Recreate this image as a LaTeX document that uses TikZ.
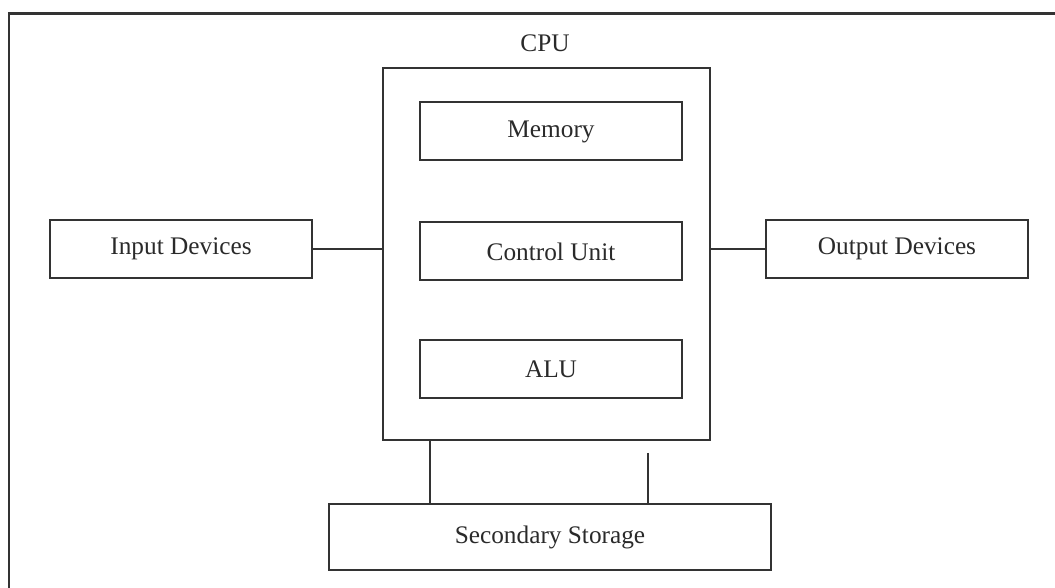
\documentclass[tikz,border=0pt]{standalone}
\usepackage{fontspec}
\setmainfont{Liberation Serif}
\definecolor{ink}{HTML}{333333}
\definecolor{txt}{HTML}{2A2A2A}

\begin{document}
\begin{tikzpicture}[
    unitbox/.style={draw=ink, line width=0.05cm, minimum width=6.55cm,
                    minimum height=1.45cm, inner sep=0pt, text=txt},
    link/.style={draw=ink, line width=0.05cm}
  ]
  \useasboundingbox (0,0) rectangle (26.375,14.7);
  {\fontsize{18}{21}\selectfont

  % Drawing page frame (runs off to the right and bottom)
  \draw [draw=ink, line width=0.05cm] (0.225,0) -- (0.225,14.35);%
  \draw [draw=ink, line width=0.075cm] (0.2,14.35) -- (26.375,14.35);%

  % Drawing box CPU with its caption
  \node [draw=ink, line width=0.05cm, minimum width=8.175cm, minimum height=9.3cm,
         inner sep=0pt] (cpu) at (13.6625,8.35) {};%
  \node [text=txt] (cpulabel) at (13.625,13.625) {CPU};%

  % Drawing units inside CPU
  \node [unitbox] (memory) at (13.775,11.4125) {Memory};%
  \node [unitbox] (control) at (13.775,8.4125) {Control Unit};%
  \node [unitbox] (alu) at (13.775,5.4625) {ALU};%

  % Drawing devices left and right
  \node [unitbox] (input) at (4.525,8.475) {Input Devices};%
  \node [unitbox] (output) at (22.425,8.475) {Output Devices};%

  % Drawing box Secondary Storage
  \node [unitbox, minimum width=11.05cm, minimum height=1.65cm] (storage)
        at (13.75,1.275) {Secondary Storage};%

  % Drawing links to CPU
  \draw [link] (input.east) -- (input.east -| cpu.west);%
  \draw [link] (output.west) -- (output.west -| cpu.east);%

  % Drawing links to storage
  \coordinate (busL) at (10.75,3.7);%
  \coordinate (busR) at (16.2,3.375);%
  \draw [link] (busL |- cpu.south) -- (busL |- storage.north);%
  \draw [link] (busR) -- (busR |- storage.north);%
  }
\end{tikzpicture}
\end{document}
